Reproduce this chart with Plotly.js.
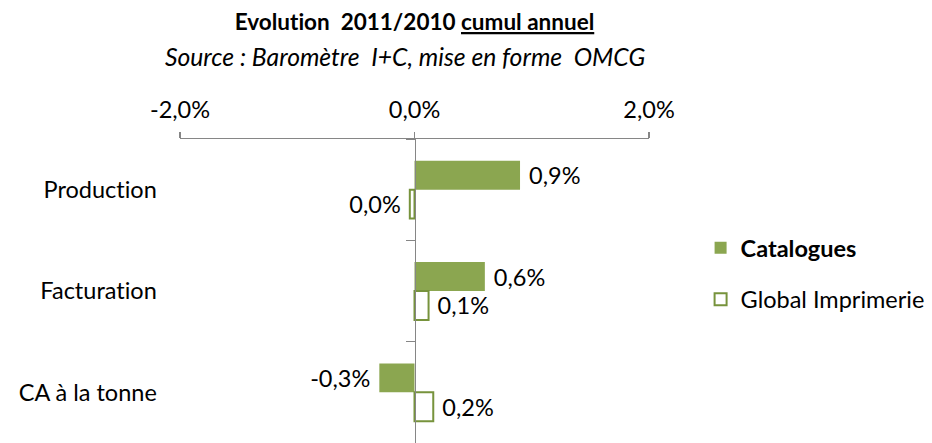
<!DOCTYPE html>
<html>
<head>
<meta charset="utf-8">
<script src="https://cdn.plot.ly/plotly-3.0.1.min.js"></script>
<style>
  html, body { margin: 0; padding: 0; background: #fff; }
  #chart { width: 932px; height: 443px; }
  #chart text, #chart tspan {
    font-variant-ligatures: none !important;
    font-feature-settings: "liga" 0, "clig" 0, "dlig" 0 !important;
  }
</style>
</head>
<body>
<div id="chart"></div>
<script>
const categories = ["Production", "Facturation", "CA à la tonne"];
const catalogues = [0.9, 0.6, -0.3];
const globalImprimerie = [-0.04, 0.12, 0.16];
const tickVals = [-2, 0, 2];
const tickLabels = ["-2,0%", "0,0%", "2,0%"];

const police = "Lato, 'Open Sans', sans-serif";
const taille = 23.5;
const vert = "#8BA650";
const vertFonce = "#77933C";
const gris = "#868686";

// libellé à la française : 0,9% (pas de -0,0%), avec un petit blanc côté barre
function pct(v) {
  let s = v.toFixed(1);
  if (s === "-0.0") s = "0.0";
  s = s.replace(".", ",") + "%";
  return v < 0 ? s + "\u00A0" : "\u00A0" + s;
}

const traces = [
  {
    type: "bar",
    orientation: "h",
    name: "<b>Catalogues</b>",
    y: categories,
    x: catalogues,
    text: catalogues.map(pct),
    textposition: "outside",
    cliponaxis: false,
    textfont: { family: police, size: taille, color: "#000" },
    marker: { color: vert, line: { color: vert, width: 0 } },
    legendgroup: "a",
    hoverinfo: "skip"
  },
  {
    type: "bar",
    orientation: "h",
    name: "Global Imprimerie",
    y: categories,
    x: globalImprimerie,
    text: globalImprimerie.map(pct),
    textposition: "outside",
    cliponaxis: false,
    textfont: { family: police, size: taille, color: "#000" },
    marker: { color: "#fff", line: { color: vertFonce, width: 2 } },
    legendgroup: "b",
    hoverinfo: "skip"
  }
];

const layout = {
  width: 932,
  height: 443,
  margin: { l: 180, r: 283, t: 139, b: 0 },
  paper_bgcolor: "#fff",
  plot_bgcolor: "#fff",
  font: { family: police, size: taille, color: "#000" },
  barmode: "group",
  bargap: 0.43,
  bargroupgap: 0,
  title: {
    text: "<b>Evolution  2011/2010 <u>cumul annuel</u></b>",
    font: { family: police, size: 22.5, color: "#000" },
    x: 0.5,
    xref: "paper",
    xanchor: "center",
    y: 0.95,
    yref: "container",
    yanchor: "middle"
  },
  annotations: [
    {
      text: "<i>Source : Baromètre  I+C, mise en forme  OMCG</i>",
      xref: "paper",
      yref: "paper",
      x: 0.5,
      y: 1.27,
      xshift: -10,
      xanchor: "center",
      yanchor: "middle",
      showarrow: false,
      font: { family: police, size: 24.7, color: "#000" }
    }
  ],
  xaxis: {
    side: "top",
    range: [-2, 2],
    tickvals: tickVals,
    ticktext: tickLabels,
    showgrid: false,
    zeroline: false,
    showline: true,
    linecolor: gris,
    linewidth: 1.5,
    ticks: "outside",
    ticklen: 6,
    tickwidth: 1.5,
    tickcolor: gris,
    ticklabelstandoff: 4,
    tickfont: { family: police, size: taille, color: "#000" },
    fixedrange: true
  },
  yaxis: {
    type: "category",
    range: [2.5, -0.5],
    anchor: "free",
    position: 0.5,
    side: "left",
    showgrid: false,
    zeroline: false,
    showline: true,
    linecolor: gris,
    linewidth: 1.5,
    ticks: "outside",
    tickson: "boundaries",
    ticklen: 9,
    tickwidth: 1.5,
    tickcolor: gris,
    ticklabelstandoff: 253,
    tickfont: { family: police, size: taille, color: "#000" },
    fixedrange: true
  },
  showlegend: true,
  legend: {
    x: 1.11,
    xanchor: "left",
    y: 0.556,
    yanchor: "middle",
    traceorder: "grouped",
    tracegroupgap: 18,
    font: { family: police, size: taille, color: "#000" },
    bgcolor: "rgba(0,0,0,0)"
  }
};

Plotly.newPlot("chart", traces, layout, { displayModeBar: false, staticPlot: true });
</script>
</body>
</html>
